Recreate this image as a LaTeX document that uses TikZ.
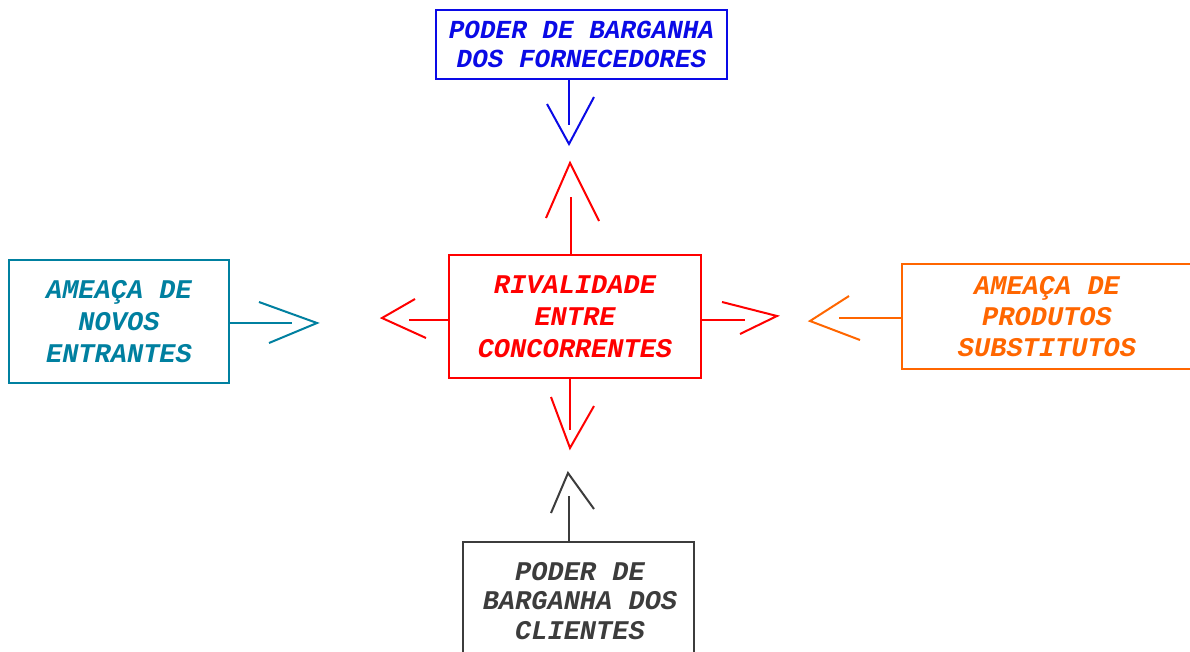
\documentclass[tikz,border=0pt]{standalone}
\usepackage{fontspec}
\newfontfamily\cour{Liberation Mono}
\definecolor{cblue}{RGB}{10,10,230}
\definecolor{cteal}{RGB}{0,128,160}
\definecolor{corange}{RGB}{255,102,0}
\definecolor{cred}{RGB}{255,0,0}
\definecolor{cgray}{RGB}{60,60,60}
\tikzset{
  fbox/.style={draw, line width=2pt, rectangle, inner sep=0pt, align=center, anchor=center},
  vhead/.style={line width=2pt, line join=miter},
  shaft/.style={line width=2pt},
}
\begin{document}
\begin{tikzpicture}[x=1pt,y=-1pt]
\clip (0,0) rectangle (1190,651);
\fill[white] (0,0) rectangle (1190,651);
% boxes
\node[fbox, cblue, minimum width=291, minimum height=69, font=\cour\bfseries\itshape\fontsize{26}{29}\selectfont] (top) at (581.5,44.5) {PODER DE BARGANHA\\DOS FORNECEDORES};
\node[fbox, cred, minimum width=252, minimum height=123, font=\cour\bfseries\itshape\fontsize{27}{32}\selectfont] (mid) at (575,316.5) {RIVALIDADE\\ENTRE\\CONCORRENTES};
\node[fbox, cteal, minimum width=220, minimum height=123, font=\cour\bfseries\itshape\fontsize{27}{32}\selectfont] (left) at (119,321.5) {AMEA\c{C}A DE\\NOVOS\\ENTRANTES};
\node[fbox, corange, minimum width=290, minimum height=105, font=\cour\bfseries\itshape\fontsize{27}{31}\selectfont] (right) at (1047,316.5) {AMEA\c{C}A DE\\PRODUTOS\\SUBSTITUTOS};
\node[fbox, cgray, minimum width=231, minimum height=130, font=\cour\bfseries\itshape\fontsize{27}{30}\selectfont, text depth=0pt] (bot) at (578.5,607) {};
\node[cgray, align=center, inner sep=0pt, font=\cour\bfseries\itshape\fontsize{27}{29.5}\selectfont] (bottxt) at (580,601) {PODER DE\\BARGANHA DOS\\CLIENTES};
% shaft end coordinates
\coordinate (s1) at (569,125);
\coordinate (s2) at (571,197);
\coordinate (s3) at (409,320);
\coordinate (s4) at (745,320);
\coordinate (s5) at (570,430);
\coordinate (s6) at (292,323);
\coordinate (s7) at (839,318);
\coordinate (s8) at (569,496);
% shafts
\draw[shaft, cblue] (top.south -| s1) -- (s1);
\draw[shaft, cred] (mid.north -| s2) -- (s2);
\draw[shaft, cred] (mid.west |- s3) -- (s3);
\draw[shaft, cred] (mid.east |- s4) -- (s4);
\draw[shaft, cred] (mid.south -| s5) -- (s5);
\draw[shaft, cteal] (left.east |- s6) -- (s6);
\draw[shaft, corange] (right.west |- s7) -- (s7);
\draw[shaft, cgray] (bot.north -| s8) -- (s8);
% open V heads
\draw[vhead, cblue] (547,104) -- (569,144) -- (594,97);
\draw[vhead, cred] (546,218) -- (570,163) -- (599,221);
\draw[vhead, cred] (415,299) -- (382,318) -- (426,338);
\draw[vhead, cred] (722,302) -- (777,316) -- (740,334);
\draw[vhead, cred] (551,397) -- (570,448) -- (594,406);
\draw[vhead, cteal] (259,302) -- (317,323) -- (269,343);
\draw[vhead, corange] (849,296) -- (810,321) -- (860,340);
\draw[vhead, cgray] (551,513) -- (568,473) -- (594,509);
\end{tikzpicture}
\end{document}
